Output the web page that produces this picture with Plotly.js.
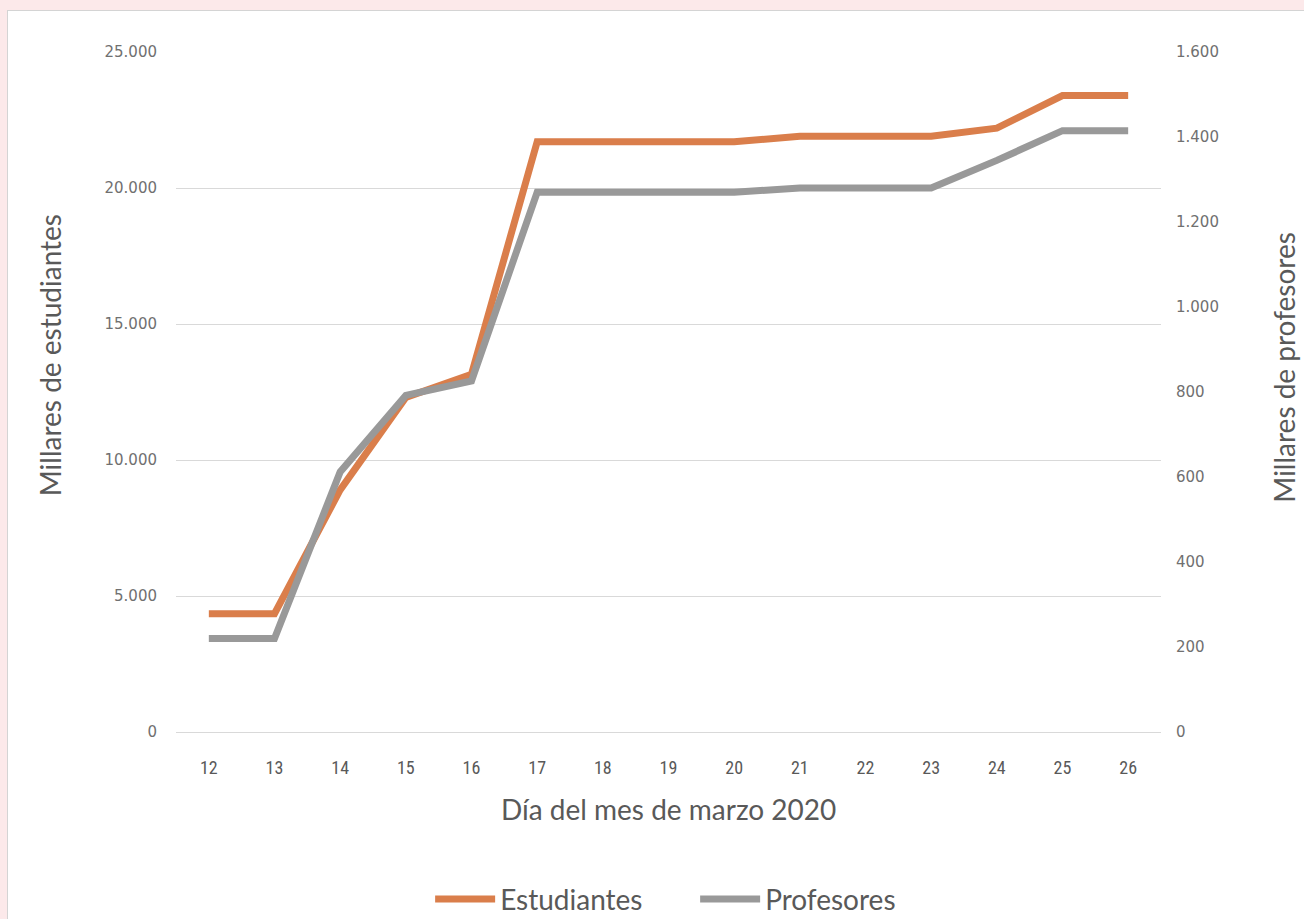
<!DOCTYPE html>
<html>
<head>
<meta charset="utf-8">
<script src="https://cdn.plot.ly/plotly-3.0.1.min.js"></script>
<style>
  html, body { margin: 0; padding: 0; width: 1304px; height: 919px; overflow: hidden; background: #fce9ea; }
  #frame { position: absolute; left: 7px; top: 10px; width: 1297px; height: 909px; background: #ffffff; border-left: 1px solid #d4d4d4; border-top: 1px solid #d4d4d4; box-sizing: border-box; }
  #chart { position: absolute; left: 0; top: 0; width: 1296px; height: 908px; }
</style>
</head>
<body>
<div id="frame"><div id="chart"></div></div>
<script>
const dias = ['12','13','14','15','16','17','18','19','20','21','22','23','24','25','26'];
const estudiantes = [4350, 4350, 8900, 12300, 13150, 21700, 21700, 21700, 21700, 21900, 21900, 21900, 22200, 23400, 23400];
const profesores = [220, 220, 612, 792, 826, 1270, 1270, 1270, 1270, 1280, 1280, 1280, 1345, 1415, 1415];

const tituloX = 'Día del mes de marzo 2020';
const tituloY1 = 'Millares de estudiantes';
const tituloY2 = 'Millares de profesores';

const grey = '#595959';
const titleFont = 'Lato, "Open Sans", sans-serif';
const narrow = '"Liberation Sans Narrow", "Roboto Condensed", "Open Sans", sans-serif';
const tickFont = '"DejaVu Sans", Verdana, sans-serif';

const traces = [
  {
    x: dias, y: estudiantes, name: 'Estudiantes', type: 'scatter', mode: 'lines',
    line: { color: '#DA7E4B', width: 7 }, yaxis: 'y'
  },
  {
    x: dias, y: profesores, name: 'Profesores', type: 'scatter', mode: 'lines',
    line: { color: '#999999', width: 7 }, yaxis: 'y2'
  }
];

const layout = {
  width: 1296, height: 908,
  margin: { l: 168, r: 143, t: 41, b: 187, autoexpand: false },
  paper_bgcolor: '#ffffff', plot_bgcolor: '#ffffff',
  separators: ',.',
  showlegend: true,
  legend: {
    orientation: 'h', x: 0.258, xanchor: 'left', y: -0.246, yanchor: 'middle',
    font: { family: titleFont, size: 28, color: grey },
    itemwidth: 60, entrywidth: 190, entrywidthmode: 'pixels', tracegroupgap: 0
  },
  xaxis: {
    type: 'category', range: [-0.5, 14.5],
    showgrid: false, zeroline: false, showline: false,
    ticks: '', ticklabelstandoff: 23,
    tickfont: { family: narrow, size: 18, color: grey }
  },
  yaxis: {
    range: [0, 25000], dtick: 5000, tickformat: ',d',
    showgrid: true, gridcolor: '#d9d9d9', gridwidth: 1,
    zeroline: true, zerolinecolor: '#d9d9d9', zerolinewidth: 1,
    showline: false, ticks: '', ticklabelstandoff: 18,
    tickfont: { family: tickFont, size: 15, color: '#707070' }
  },
  yaxis2: {
    range: [0, 1600], dtick: 200, tickformat: ',d',
    overlaying: 'y', side: 'right',
    showgrid: false, zeroline: false, showline: false, ticks: '', ticklabelstandoff: 14,
    tickfont: { family: tickFont, size: 15, color: '#707070' }
  },
  annotations: [
    { text: tituloY1, xref: 'paper', yref: 'paper', x: -0.128, y: 0.554, xanchor: 'center', yanchor: 'middle',
      textangle: -90, showarrow: false, font: { family: titleFont, size: 28, color: grey } },
    { text: tituloY2, xref: 'paper', yref: 'paper', x: 1.124, y: 0.536, xanchor: 'center', yanchor: 'middle',
      textangle: -90, showarrow: false, font: { family: titleFont, size: 28, color: grey } },
    { text: tituloX, xref: 'paper', yref: 'paper', x: 0.5, y: -0.113, xanchor: 'center', yanchor: 'middle',
      showarrow: false, font: { family: titleFont, size: 28, color: grey } }
  ]
};

Plotly.newPlot('chart', traces, layout, { displayModeBar: false, staticPlot: true });
</script>
</body>
</html>
